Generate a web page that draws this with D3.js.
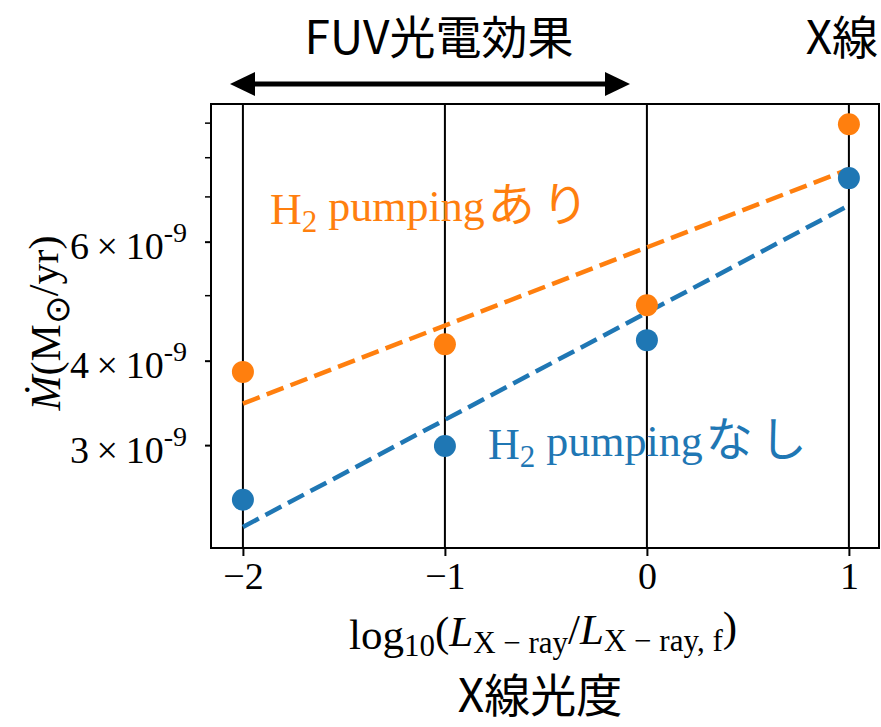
<!DOCTYPE html>
<html><head><meta charset="utf-8">
<script src="https://cdn.jsdelivr.net/npm/d3@7"></script>
<style>
html,body{margin:0;padding:0;background:#fff;}
svg{display:block;}
</style></head>
<body>
<svg id="chart" width="881" height="727"></svg>
<script>
// ---- data ----
const xValues = [-2, -1, 0, 1];
const withPumping = [3.85e-9, 4.23e-9, 4.83e-9, 8.95e-9];     // H2 pumping あり
const withoutPumping = [2.49e-9, 2.99e-9, 4.29e-9, 7.45e-9];  // H2 pumping なし
const fitX = [-2, 1];
const fitWith = [3.455e-9, 7.68e-9];
const fitWithout = [2.27e-9, 6.79e-9];
const xTickValues = [-2, -1, 0, 1];
const xTickLabels = ["\u22122", "\u22121", "0", "1"];
const yMajorTicks = [3e-9, 4e-9, 6e-9];
const yMajorMantissa = ["3", "4", "6"];
const yMinorTicks = [5e-9, 7e-9, 8e-9, 9e-9];

const ORANGE = "#ff7f0e", BLUE = "#1f77b4";
const SERIF = "'Liberation Serif','Times New Roman',serif";
const JP = "'Noto Sans CJK JP','Noto Sans',sans-serif";

const box = {left: 211, right: 879, top: 104, bottom: 548};
const svg = d3.select("#chart");

const x = d3.scaleLinear().domain([-2.158, 1.149]).range([box.left, box.right]);
const y = d3.scaleLog().domain([2.113e-9, 9.59e-9]).range([box.bottom, box.top]);

// vertical lines
svg.append("g").selectAll("line").data(xValues).join("line")
  .attr("x1", d => x(d)).attr("x2", d => x(d))
  .attr("y1", box.top).attr("y2", box.bottom)
  .attr("stroke", "#000").attr("stroke-width", 2);

// fit lines
const line = d3.line().x((d) => x(d[0])).y(d => y(d[1]));
[[fitWith, ORANGE], [fitWithout, BLUE]].forEach(([vals, col]) => {
  svg.append("path").datum(fitX.map((v, i) => [v, vals[i]]))
    .attr("d", line).attr("fill", "none").attr("stroke", col)
    .attr("stroke-width", 4.5).attr("stroke-dasharray", "18 7.5");
});

// points
[[withPumping, ORANGE], [withoutPumping, BLUE]].forEach(([vals, col]) => {
  svg.append("g").selectAll("circle").data(xValues.map((v, i) => [v, vals[i]])).join("circle")
    .attr("cx", d => x(d[0])).attr("cy", d => y(d[1])).attr("r", 11).attr("fill", col);
});

// frame
svg.append("rect").attr("x", box.left).attr("y", box.top)
  .attr("width", box.right - box.left).attr("height", box.bottom - box.top)
  .attr("fill", "none").attr("stroke", "#000").attr("stroke-width", 2);

// x axis
const xAxis = svg.append("g").attr("transform", `translate(0,${box.bottom})`)
  .call(d3.axisBottom(x).tickValues(xTickValues).tickSize(8).tickPadding(6)
    .tickFormat((d, i) => xTickLabels[i]));
xAxis.select(".domain").remove();
xAxis.selectAll(".tick line").attr("stroke-width", 2);
xAxis.selectAll(".tick text").attr("font-family", SERIF).attr("font-size", 38)
  .attr("fill", "#000").attr("dy", "0.72em");

// y axis major
const yAxis = svg.append("g").attr("transform", `translate(${box.left},0)`)
  .call(d3.axisLeft(y).tickValues(yMajorTicks).tickSize(6).tickPadding(18).tickFormat(() => ""));
yAxis.select(".domain").remove();
yAxis.selectAll(".tick line").attr("stroke-width", 2);
yAxis.selectAll(".tick text").each(function(d, i) {
  const t = d3.select(this).attr("font-family", SERIF).attr("font-size", 38).attr("fill", "#000")
    .attr("dy", "0.45em");
  t.text(null);
  t.append("tspan").text(yMajorMantissa[i] + "\u2009\u00d7\u200910");
  t.append("tspan").attr("dy", "-0.6em").attr("font-size", 28).text("-9");
});
// y minor
const yMinor = svg.append("g").attr("transform", `translate(${box.left},0)`)
  .call(d3.axisLeft(y).tickValues(yMinorTicks).tickSize(6).tickFormat(() => ""));
yMinor.select(".domain").remove();
yMinor.selectAll(".tick line").attr("stroke-width", 1.5);

// y label
const yl = svg.append("text").attr("transform", "translate(60,323) rotate(-90)")
  .attr("text-anchor", "middle").attr("font-family", SERIF).attr("font-size", 42).attr("fill", "#000");
yl.append("tspan").attr("font-style", "italic").text("\u1E40");
yl.append("tspan").text("(M");
yl.append("tspan").attr("font-size", 34).attr("dy", "0.25em").text("\u2299");
yl.append("tspan").attr("dy", "-0.25em").text("/yr)");

// x label
const xl = svg.append("text").attr("x", 543).attr("y", 649).attr("text-anchor", "middle")
  .attr("font-family", SERIF).attr("font-size", 43).attr("fill", "#000");
xl.append("tspan").text("log");
xl.append("tspan").attr("font-size", 31).attr("dy", "0.22em").text("10");
xl.append("tspan").attr("dy", "-0.22em").text("(");
xl.append("tspan").attr("font-style", "italic").text("L");
xl.append("tspan").attr("font-size", 31).attr("dy", "0.22em").text("X \u2212 ray");
xl.append("tspan").attr("dy", "-0.22em").text("/");
xl.append("tspan").attr("font-style", "italic").text("L");
xl.append("tspan").attr("font-size", 31).attr("dy", "0.22em").text("X \u2212 ray, f");
xl.append("tspan").attr("dy", "-0.22em").text(")");

// Japanese annotations
svg.append("text").attr("x", 540).attr("y", 712).attr("text-anchor", "middle")
  .attr("font-family", JP).attr("font-size", 46).attr("fill", "#000").text("X線光度");
svg.append("text").attr("x", 439).attr("y", 54).attr("text-anchor", "middle")
  .attr("font-family", JP).attr("font-size", 46).attr("fill", "#000").text("FUV光電効果");
svg.append("text").attr("x", 878).attr("y", 54).attr("text-anchor", "end")
  .attr("font-family", JP).attr("font-size", 46).attr("fill", "#000").text("X線");

// double arrow
const ay = 84;
svg.append("line").attr("x1", 250).attr("x2", 610).attr("y1", ay).attr("y2", ay)
  .attr("stroke", "#000").attr("stroke-width", 5);
svg.append("path").attr("d", `M230,${ay} L255,${ay-12} L255,${ay+12} Z`).attr("fill", "#000");
svg.append("path").attr("d", `M630,${ay} L605,${ay-12} L605,${ay+12} Z`).attr("fill", "#000");

// series labels
function seriesLabel(xp, yp, col, tail) {
  const t = svg.append("text").attr("x", xp).attr("y", yp).attr("font-family", SERIF)
    .attr("font-size", 44).attr("fill", col);
  t.append("tspan").text("H");
  t.append("tspan").attr("font-size", 31).attr("dy", "0.25em").text("2");
  t.append("tspan").attr("dy", "-0.25em").text(" pumping");
  t.append("tspan").attr("font-family", JP).attr("font-size", 47).attr("dx", 3)
    .attr("letter-spacing", 7).text(tail);
}
seriesLabel(270, 224, ORANGE, "あり");
seriesLabel(488, 459, BLUE, "なし");
</script>
</body></html>
